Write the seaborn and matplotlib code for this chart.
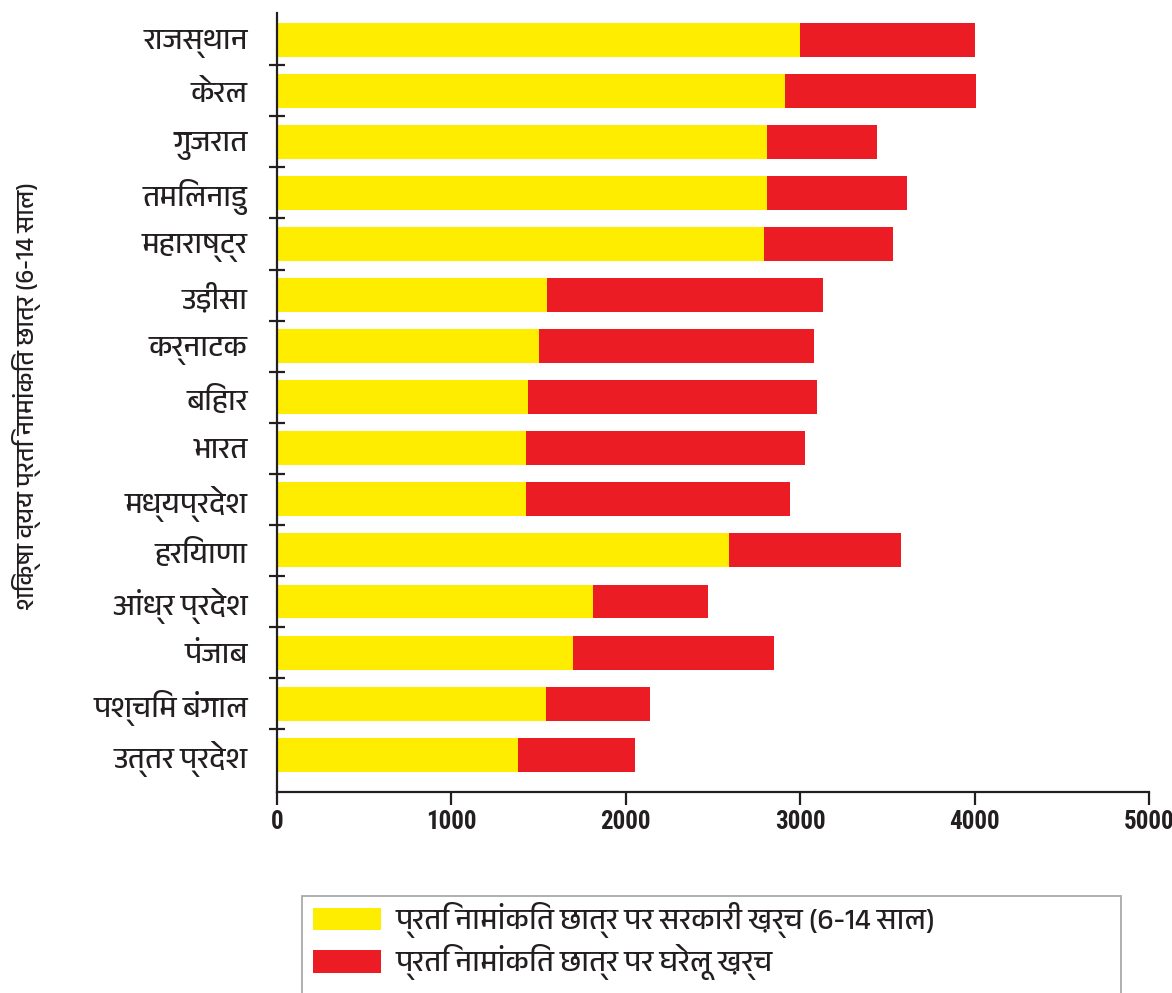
import matplotlib
matplotlib.use("Agg")
import matplotlib.pyplot as plt
from matplotlib import font_manager
from matplotlib.ft2font import FT2Font
from matplotlib.patches import Patch, Rectangle
import seaborn as sns
import pandas as pd

# ---------------- data ----------------
states = ["राजस्थान", "केरल", "गुजरात", "तमिलनाडु", "महाराष्ट्र", "उड़ीसा", "कर्नाटक",
          "बिहार", "भारत", "मध्यप्रदेश", "हरियाणा", "आंध्र प्रदेश", "पंजाब",
          "पश्चिम बंगाल", "उत्तर प्रदेश"]
govt_spend = [3000, 2910, 2810, 2810, 2790, 1550, 1500, 1440, 1430, 1430, 2590, 1810, 1700, 1540, 1380]
household_spend = [1000, 1100, 630, 800, 740, 1580, 1580, 1655, 1600, 1510, 990, 660, 1150, 600, 670]
x_ticks = [0, 1000, 2000, 3000, 4000, 5000]
legend_labels = ["प्रति नामांकित छात्र पर सरकारी ख़र्च (6-14 साल)",
                 "प्रति नामांकित छात्र पर घरेलू ख़र्च"]
y_title = "शिक्षा व्यय प्रति नामांकित छात्र (6-14 साल)"

YELLOW = "#FFED00"
RED = "#EC1C24"
INK = "#231F20"

# ---------------- fonts ----------------
def find_font(ch, prefer=()):
    found = []
    for f in font_manager.fontManager.ttflist:
        try:
            ft = FT2Font(f.fname)
            if ft.get_char_index(ord(ch)):
                found.append(f.name)
        except Exception:
            pass
    for p in prefer:
        for n in found:
            if p.lower() in n.lower():
                return n
    return found[0] if found else None

deva = find_font("र", prefer=("Devanagari", "Lohit", "Mukta", "Hind"))
deva_family = [deva, "DejaVu Sans"] if deva else ["DejaVu Sans"]

names = sorted({f.name for f in font_manager.fontManager.ttflist})
num_family = None
for cand in ["Liberation Sans Narrow", "Roboto Condensed", "Noto Sans Condensed",
             "Open Sans Condensed", "DejaVu Sans Condensed"]:
    if cand in names:
        num_family = cand
        break
if num_family is None:
    cond = [n for n in names if ("condensed" in n.lower() or "narrow" in n.lower())
            and "cjk" not in n.lower() and "mono" not in n.lower()]
    num_family = cond[0] if cond else "DejaVu Sans"
cond_ok = num_family != "DejaVu Sans"

sns.set_theme(style="white")
plt.rcParams["font.family"] = deva_family

# ---------------- figure ----------------
W, H = 1172, 993
fig = plt.figure(figsize=(W / 100, H / 100), dpi=100)
fig.patch.set_facecolor("white")
ax = fig.add_axes([277 / W, 1 - 792 / H, (1149 - 277) / W, (792 - 13.3) / H])

df = pd.DataFrame({"state": states,
                   "govt": govt_spend,
                   "total": [g + h for g, h in zip(govt_spend, household_spend)]})

sns.barplot(data=df, y="state", x="total", color=RED, saturation=1, width=0.665,
            orient="h", linewidth=0, ax=ax)
sns.barplot(data=df, y="state", x="govt", color=YELLOW, saturation=1, width=0.665,
            orient="h", linewidth=0, ax=ax)

ax.set_xlim(0, 5000)
ax.set_ylim(14.73, -0.517)
ax.set_facecolor("white")

for s in ["top", "right"]:
    ax.spines[s].set_visible(False)
for s in ["left", "bottom"]:
    ax.spines[s].set_color(INK)
    ax.spines[s].set_linewidth(1.6)

ax.set_xticks(x_ticks)
ax.set_xticklabels([str(v) for v in x_ticks])
ax.tick_params(axis="x", direction="out", length=9, width=1.6, color=INK, pad=4,
               labelsize=18 if cond_ok else 14, bottom=True)
for t in ax.get_xticklabels():
    t.set_fontfamily(num_family)
    t.set_fontweight("bold")
    if not cond_ok:
        t.set_fontstretch("condensed")
    t.set_color(INK)

ax.set_yticks(range(len(states)))
ax.set_yticklabels(states)
ax.set_yticks([i + 0.5 for i in range(len(states) - 1)], minor=True)
ax.tick_params(axis="y", which="major", length=0, pad=21, labelsize=21, labelcolor=INK)
ax.tick_params(axis="y", which="minor", direction="inout", length=11, width=1.6,
               color=INK, left=True)

ax.set_xlabel("")
ax.set_ylabel(y_title, fontsize=18, color=INK, va="center")
ax.yaxis.set_label_coords(-250 / 872, 0.509)

# ---------------- legend ----------------
handles = [Patch(facecolor=YELLOW, edgecolor="none"), Patch(facecolor=RED, edgecolor="none")]
leg = fig.legend(handles, legend_labels, loc="upper left",
                 bbox_to_anchor=(313 / W, 1 - 902 / H), frameon=False,
                 fontsize=21, handlelength=2.33, handleheight=0.82,
                 handletextpad=0.5, labelspacing=0.22, borderpad=0, borderaxespad=0)
for t in leg.get_texts():
    t.set_color(INK)

fig.add_artist(Rectangle((302 / W, -0.05), (1121 - 302) / W, (1 - 896 / H) + 0.05,
                         transform=fig.transFigure, facecolor="none",
                         edgecolor="#A7A9AC", linewidth=1.3))

fig.savefig("out.png", dpi=100, facecolor="white")
